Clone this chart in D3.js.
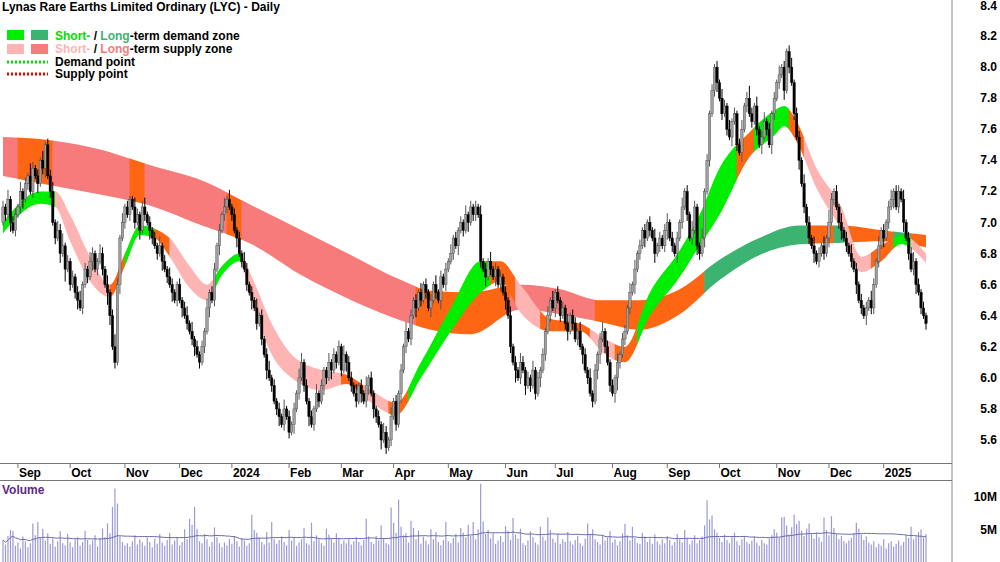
<!DOCTYPE html>
<html><head><meta charset="utf-8">
<script src="https://cdn.jsdelivr.net/npm/d3@7"></script>
<style>body{margin:0;background:#fff}svg{display:block;font-family:"Liberation Sans",Arial,sans-serif}</style>
</head><body><svg id="c" width="1000" height="562"></svg>
<script>
const closes = [
7.10,7.05,7.15,7.00,6.95,7.05,7.10,7.20,7.15,7.25, 7.30,7.20,7.35,7.30,7.25,7.40,7.35,7.50,7.30,7.20,
7.00,6.90,6.95,6.80,6.85,6.70,6.75,6.60,6.65,6.55, 6.50,6.45,6.60,6.70,6.65,6.75,6.80,6.70,6.75,6.80,
6.70,6.60,6.55,6.40,6.20,6.10,6.60,6.90,7.00,7.10, 7.05,7.15,7.10,7.00,7.05,6.95,7.10,7.05,7.00,6.95,
6.90,6.85,6.80,6.85,6.75,6.70,6.65,6.60,6.55,6.50, 6.60,6.50,6.45,6.40,6.35,6.30,6.25,6.20,6.15,6.10,
6.20,6.30,6.45,6.55,6.50,6.70,6.85,6.95,7.05,7.10, 7.15,7.10,7.05,6.95,6.90,6.80,6.75,6.70,6.60,6.55,
6.50,6.45,6.35,6.40,6.25,6.15,6.05,6.00,5.95,5.85, 5.80,5.75,5.70,5.80,5.75,5.65,5.70,5.80,5.90,6.00,
6.10,5.95,5.85,5.75,5.70,5.80,5.90,5.85,5.95,6.05, 6.00,6.10,6.05,6.15,6.10,6.20,6.05,6.15,6.10,6.00,
5.95,5.90,5.85,5.95,5.90,5.85,5.95,6.00,5.90,5.80, 5.75,5.70,5.60,5.65,5.55,5.60,5.75,5.85,5.70,5.90,
6.05,6.20,6.30,6.25,6.40,6.50,6.45,6.55,6.50,6.60, 6.55,6.45,6.50,6.60,6.55,6.50,6.65,6.60,6.70,6.75,
6.80,6.90,6.85,6.95,7.00,6.95,7.05,7.00,7.10,7.05, 7.10,7.05,6.75,6.70,6.65,6.75,6.70,6.65,6.70,6.60,
6.65,6.55,6.50,6.40,6.20,6.10,6.05,6.00,6.10,6.05, 5.95,6.00,5.95,6.05,5.90,6.00,6.05,6.15,6.30,6.40,
6.50,6.45,6.55,6.50,6.40,6.45,6.35,6.30,6.40,6.35, 6.25,6.30,6.20,6.15,6.05,6.00,5.90,5.85,6.05,6.15,
6.25,6.30,6.20,6.10,5.95,5.90,6.00,6.10,6.15,6.25, 6.30,6.45,6.55,6.60,6.70,6.80,6.85,6.95,6.90,7.00,
6.95,6.90,6.80,6.85,6.90,6.85,6.95,7.00,6.90,6.85, 6.80,6.90,7.00,7.10,7.20,7.05,6.90,6.95,7.10,6.85,
6.80,6.90,7.20,7.40,7.70,7.85,8.00,7.90,7.80,7.70, 7.75,7.60,7.55,7.65,7.70,7.50,7.45,7.60,7.75,7.80,
7.70,7.65,7.75,7.60,7.50,7.55,7.65,7.60,7.50,7.70, 7.80,7.90,7.95,8.00,7.85,8.10,8.00,7.90,7.70,7.55,
7.40,7.25,7.10,7.00,6.90,6.85,6.80,6.75,6.80,6.85, 6.80,6.90,7.00,7.15,7.20,7.10,7.00,6.95,6.90,6.85,
6.80,6.75,6.70,6.60,6.50,6.45,6.40,6.45,6.50,6.45, 6.60,6.75,6.85,6.95,6.90,7.00,7.10,7.15,7.20,7.10,
7.20,7.15,7.00,6.90,6.80,6.70,6.75,6.60,6.55,6.45, 6.40,6.35];
const openFirst = 7.0;
// wick lengths in 0.02 steps, one digit per day
const wickUp = "2131221312 1421213122 3132412121 2312132113 2131242131 2113212312 1213121321 1212313121 2131221213 1312121321 2131212312 1213121213 3121213121 1312121312 2131213121 1213213121 2131212131 2121312121 3121213121 2131213121 2121312132 1213121213 1312121312 2131213121 2312121312 2131312121 2131212312 1213121321 1312121213 2131212312 4213123121 2131212312 2131213121 3142121312 1312121213 2131212312 2131223121 21".replace(/ /g,"");
const wickDn = "1213121231 2121312312 1213141212 3121213121 2143121312 1212131213 2121312131 2131212312 1213121312 2121312121 3121213121 2312121312 1213121213 2131212131 2121312313 2131212121 3121213121 2131213121 1213121312 2121312131 2131214121 3121213121 2131212312 1213121213 3121213421 2121312131 2131212312 1312121213 2131212312 1213121312 1212131213 2121312121 3121213121 2131212312 1213121312 2121312131 2131212312 12".replace(/ /g,"");
const volumes = [
3.5,2.8,4.1,5.0,4.9,2.6,3.1,2.2,4.0,3.3, 2.4,3.0,6.0,4.2,6.2,3.8,5.2,3.4,4.5,2.9,
3.7,2.5,3.3,4.8,3.0,2.7,4.4,3.1,2.4,3.6, 3.9,2.6,3.2,4.9,3.5,2.8,3.4,4.2,2.5,3.8,
5.2,3.9,6.0,4.5,8.5,11.3,9.0,4.0,3.2,2.7, 3.0,2.5,3.3,4.2,2.8,3.6,3.1,2.6,3.9,3.2,
2.4,3.7,2.9,4.4,3.1,2.6,3.5,4.6,2.8,3.4, 3.9,2.7,3.2,5.1,3.6,6.7,5.8,8.5,5.2,3.3,
3.0,4.4,3.6,2.5,3.2,5.4,3.9,3.0,2.4,3.1, 2.7,3.6,2.9,4.1,3.3,2.5,3.8,3.4,2.6,3.0,
7.3,5.0,4.6,3.9,3.2,2.8,4.7,3.1,6.2,3.6, 2.9,3.5,4.0,3.2,2.7,5.0,3.4,3.8,2.6,3.1,
3.6,5.3,3.0,2.8,6.1,3.3,4.2,3.6,3.0,2.6, 5.2,4.3,3.7,3.1,4.5,3.8,2.9,3.4,3.0,3.6,
2.8,3.3,3.9,3.2,2.7,3.5,6.7,4.0,3.2,2.9, 4.1,3.4,5.7,3.7,3.0,2.8,8.4,6.1,4.6,9.6,
5.5,4.2,4.5,3.1,6.4,5.3,3.6,4.9,2.9,4.0, 3.4,2.8,5.1,3.6,4.7,3.2,2.7,3.5,6.2,3.3,
3.0,3.8,4.4,3.1,5.3,4.6,3.9,5.8,4.1,6.2, 3.6,5.1,12.0,6.3,4.4,5.0,3.7,4.5,2.9,3.4,
4.1,3.2,5.6,4.9,3.5,6.8,4.3,3.7,5.2,3.0, 2.7,3.4,4.8,3.9,3.1,2.8,5.5,4.0,3.4,6.9,
5.0,3.7,3.1,4.4,2.9,3.6,3.2,4.7,3.3,2.8, 3.5,4.1,3.0,2.6,3.7,6.0,4.3,5.1,3.6,3.2,
2.8,4.2,3.4,3.9,4.8,3.1,3.6,2.7,3.3,4.5, 5.9,4.2,3.4,5.5,3.8,3.0,2.9,4.6,4.0,3.2,
3.7,2.9,4.3,3.3,2.8,3.6,3.0,4.1,3.5,2.7, 3.2,4.4,3.6,3.1,5.0,3.8,2.8,3.4,4.2,3.0,
3.5,4.0,5.7,9.5,6.6,7.2,5.1,4.6,3.8,3.2, 4.3,3.5,3.0,3.9,4.6,3.3,2.7,3.6,4.1,3.2,
2.9,3.4,4.0,3.1,2.6,3.5,3.0,2.8,3.7,4.2, 5.1,4.6,3.8,6.9,7.0,5.7,4.3,5.4,7.3,5.9,
6.4,4.9,4.1,5.2,6.0,4.4,3.7,4.6,3.9,3.2, 6.9,5.0,4.2,7.1,5.3,4.4,3.6,4.1,3.3,3.0,
3.4,3.8,4.5,6.1,5.2,4.3,3.5,4.0,3.1,2.8, 3.3,2.4,2.9,2.6,3.6,2.2,3.0,3.3,2.5,2.9,
3.4,2.7,3.2,4.2,3.8,5.5,3.6,4.0,4.7,5.1, 3.9,4.4];

// long-term band (day index, top, bottom)
const longDay = [0,19,39,59,80,100,120,140,160,172,188,208,224,240,256,272,288,304,320,337,353,371];
const longTop = [7.55,7.53,7.47,7.37,7.27,7.11,6.95,6.79,6.63,6.56,6.55,6.6,6.57,6.5,6.5,6.57,6.76,6.9,6.98,6.98,6.95,6.92];
const longBot = [7.3,7.24,7.18,7.11,6.98,6.86,6.66,6.5,6.37,6.31,6.28,6.44,6.41,6.36,6.31,6.41,6.63,6.79,6.86,6.87,6.88,6.84];
const longSegStart = [0,6,20,51,57,90,96,166,204,238,282,324,334,340,358,365];
const longSegZone = ['s','o','s','o','s','o','s','o','s','o','d','o','d','o','d','o'];
// short-term band
const shortDay = [0,15,21,27,35,43,49,55,61,67,75,82,88,95,100,108,116,128,138,148,158,168,180,192,200,208,220,232,242,250,260,272,280,288,300,310,314,319,327,337,345,353,361,371];
const shortTop = [7.0,7.2,7.2,7.05,6.78,6.6,6.8,6.98,6.96,6.9,6.72,6.6,6.72,6.8,6.65,6.35,6.15,6.05,6.02,5.92,5.84,6.1,6.45,6.75,6.75,6.6,6.38,6.35,6.25,6.2,6.55,6.82,7.05,7.35,7.58,7.72,7.75,7.65,7.35,7.1,6.78,6.85,6.92,6.8];
const shortBot = [6.93,7.12,7.1,6.88,6.62,6.52,6.72,6.92,6.9,6.78,6.58,6.5,6.66,6.75,6.5,6.15,6.0,5.92,5.96,5.84,5.76,6.0,6.3,6.55,6.62,6.42,6.3,6.3,6.15,6.1,6.4,6.65,6.85,7.05,7.42,7.56,7.62,7.52,7.22,6.95,6.68,6.75,6.86,6.74];
const shortSegStart = [0,21,43,49,61,67,85,96,136,145,155,163,196,206,216,236,246,255,295,302,316,322,349,358,365];
const shortSegZone = ['d','s','o','d','o','s','d','s','o','s','o','d','o','s','o','s','o','d','o','d','o','s','o','d','s'];

const priceTicks = [8.4,8.2,8.0,7.8,7.6,7.4,7.2,7.0,6.8,6.6,6.4,6.2,6.0,5.8,5.6];
const volTicks = [10,5];

const N = closes.length;
const svg = d3.select("#c");
const x = d3.scaleLinear().domain([0, N - 1]).range([3, 926]);
const y = d3.scaleLinear().domain([5.6, 8.4]).range([440, 5]);
const yv = d3.scaleLinear().domain([0, 10]).range([563, 497]);

const colors = {
  long: {s: "#f77b7b", d: "#3cb371", o: "#ff6614"},
  short: {s: "#ffb4b4", d: "#00ee00", o: "#ff6614"}
};

function drawBand(id, days, top, bot, segStart, segZone, pal) {
  const pts = days.map((d, i) => ({d, t: top[i], b: bot[i]}));
  const area = d3.area().curve(d3.curveMonotoneX)
    .x(p => x(p.d)).y0(p => y(p.b)).y1(p => y(p.t));
  const g = svg.append("g");
  segStart.forEach((s, i) => {
    const e = i + 1 < segStart.length ? segStart[i + 1] : N - 1;
    const cid = id + i;
    svg.append("clipPath").attr("id", cid).append("rect")
      .attr("x", x(s) - 0.3).attr("width", x(e) - x(s) + 0.6).attr("y", 0).attr("height", 462);
    g.append("path").attr("d", area(pts)).attr("fill", pal[segZone[i]])
      .attr("clip-path", `url(#${cid})`);
  });
}
drawBand("lz", longDay, longTop, longBot, longSegStart, longSegZone, colors.long);
drawBand("sz", shortDay, shortTop, shortBot, shortSegStart, shortSegZone, colors.short);

// candles
const candles = closes.map((c, i) => {
  const o = i ? closes[i - 1] : openFirst;
  return {i, o, c,
    h: Math.max(o, c) + (+wickUp[i] || 0) * 0.02,
    l: Math.min(o, c) - (+wickDn[i] || 0) * 0.02};
});
const cg = svg.append("g");
cg.selectAll("line").data(candles).join("line")
  .attr("x1", d => x(d.i)).attr("x2", d => x(d.i))
  .attr("y1", d => y(d.h)).attr("y2", d => y(d.l))
  .attr("stroke", d => d.c >= d.o ? "#555" : "#000").attr("stroke-width", 1);
cg.selectAll("rect").data(candles).join("rect")
  .attr("x", d => x(d.i) - 1.2).attr("width", 2.4)
  .attr("y", d => y(Math.max(d.o, d.c)))
  .attr("height", d => Math.max(1, Math.abs(y(d.o) - y(d.c))))
  .attr("fill", d => d.c >= d.o ? "#a0a0a0" : "#000")
  .attr("stroke", d => d.c >= d.o ? "#444" : "#000").attr("stroke-width", 0.4);

// price axis
svg.append("line").attr("x1", 952).attr("x2", 952).attr("y1", 0).attr("y2", 562).attr("stroke", "#888");
svg.selectAll(".pt").data(priceTicks).join("text").attr("class", "pt")
  .attr("x", 997).attr("y", d => Math.max(y(d) + 4, 10)).attr("text-anchor", "end")
  .attr("font-size", 12).attr("font-weight", "bold").text(d => d.toFixed(1));

// date axis
svg.append("line").attr("x1", 0).attr("x2", 952).attr("y1", 463.5).attr("y2", 463.5).attr("stroke", "#777");
svg.append("line").attr("x1", 0).attr("x2", 952).attr("y1", 480.5).attr("y2", 480.5).attr("stroke", "#777");
const end = new Date(2025, 0, 24);
const dates = [];
for (let d = new Date(end); dates.length < N; d = d3.timeDay.offset(d, -1)) {
  if (d.getDay() !== 0 && d.getDay() !== 6) dates.unshift(new Date(d));
}
const monthTicks = dates.map((d, i) => ({d, i}))
  .filter((t, k) => k > 0 && t.d.getMonth() !== dates[k - 1].getMonth());
const mt = svg.append("g");
mt.selectAll("line").data(monthTicks).join("line")
  .attr("x1", t => x(t.i)).attr("x2", t => x(t.i)).attr("y1", 464).attr("y2", 468).attr("stroke", "#777");
mt.selectAll("text").data(monthTicks).join("text")
  .attr("x", t => x(t.i) + 1).attr("y", 477).attr("font-size", 12).attr("font-weight", "bold")
  .text(t => t.d.getMonth() === 0 ? d3.timeFormat("%Y")(t.d) : d3.timeFormat("%b")(t.d));

// volume
const vg = svg.append("g");
vg.selectAll("line").data(volumes).join("line")
  .attr("x1", (v, i) => x(i)).attr("x2", (v, i) => x(i))
  .attr("y1", v => yv(v)).attr("y2", 562).attr("stroke", "#9a9ad6").attr("stroke-width", 1.2);
const avg = volumes.map((v, i) => d3.mean(volumes.slice(Math.max(0, i - 49), i + 1)));
vg.append("path").attr("d", d3.line().x((v, i) => x(i)).y(v => yv(v))(avg))
  .attr("fill", "none").attr("stroke", "#6a6ab0").attr("stroke-width", 1);
svg.append("text").attr("x", 2).attr("y", 494).attr("font-size", 12).attr("font-weight", "bold")
  .attr("fill", "#5b2a86").text("Volume");
svg.selectAll(".vt").data(volTicks).join("text").attr("class", "vt")
  .attr("x", 997).attr("y", d => yv(d) + 4).attr("text-anchor", "end")
  .attr("font-size", 12).attr("font-weight", "bold").text(d => d + "M");

// title + legend
svg.append("text").attr("x", 2).attr("y", 11).attr("font-size", 12).attr("font-weight", "bold").text("Lynas Rare Earths Limited Ordinary (LYC) - Daily");
const lg = svg.append("g").attr("font-size", 12).attr("font-weight", "bold");
[["#00ee00", "#3cb371"], ["#ffb4b4", "#f77b7b"]].forEach((c, k) => {
  lg.append("rect").attr("x", 7).attr("y", 30 + k * 14).attr("width", 17).attr("height", 10).attr("fill", c[0]);
  lg.append("rect").attr("x", 31).attr("y", 30 + k * 14).attr("width", 17).attr("height", 10).attr("fill", c[1]);
});
const l1 = lg.append("text").attr("x", 55).attr("y", 40);
l1.append("tspan").attr("fill", "#00dd00").text("Short-");
l1.append("tspan").text(" / ");
l1.append("tspan").attr("fill", "#3cb371").text("Long");
l1.append("tspan").text("-term demand zone");
const l2 = lg.append("text").attr("x", 55).attr("y", 53);
l2.append("tspan").attr("fill", "#ffb4b4").text("Short-");
l2.append("tspan").text(" / ");
l2.append("tspan").attr("fill", "#f77b7b").text("Long");
l2.append("tspan").text("-term supply zone");
[["#00dd00", "Demand point"], ["#ee0000", "Supply point"]].forEach((c, k) => {
  lg.append("line").attr("x1", 7).attr("x2", 48).attr("y1", 62 + k * 12).attr("y2", 62 + k * 12)
    .attr("stroke", c[0]).attr("stroke-width", 3).attr("stroke-dasharray", "2,2");
  lg.append("text").attr("x", 55).attr("y", 66 + k * 12).text(c[1]);
});
</script></body></html>
